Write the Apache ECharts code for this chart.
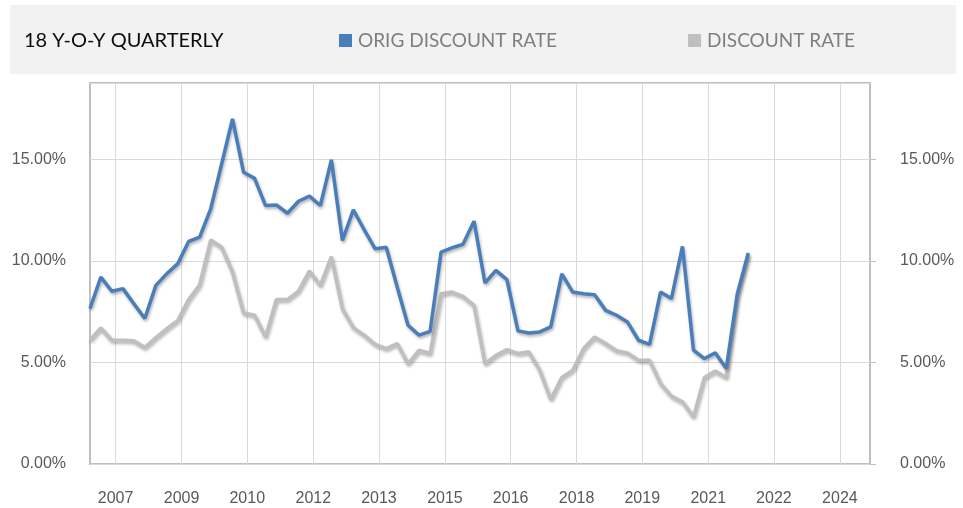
<!DOCTYPE html>
<html>
<head>
<meta charset="utf-8">
<script src="https://cdn.jsdelivr.net/npm/echarts@6/dist/echarts.min.js"></script>
<style>html,body{margin:0;padding:0;background:#fff}#c{width:963px;height:508px}</style>
</head>
<body>
<div id="c"></div>
<script>
// Quarter dates (end of month)
const dates = [
 '2006-11-30',
 '2007-02-28','2007-05-31','2007-08-31','2007-11-30',
 '2008-02-29','2008-05-31','2008-08-31','2008-11-30',
 '2009-02-28','2009-05-31','2009-08-31','2009-11-30',
 '2010-02-28','2010-05-31','2010-08-31','2010-11-30',
 '2011-02-28','2011-05-31','2011-08-31','2011-11-30',
 '2012-02-29','2012-05-31','2012-08-31','2012-11-30',
 '2013-02-28','2013-05-31','2013-08-31','2013-11-30',
 '2014-02-28','2014-05-31','2014-08-31','2014-11-30',
 '2015-02-28','2015-05-31','2015-08-31','2015-11-30',
 '2016-02-29','2016-05-31','2016-08-31','2016-11-30',
 '2017-02-28','2017-05-31','2017-08-31','2017-11-30',
 '2018-02-28','2018-05-31','2018-08-31','2018-11-30',
 '2019-02-28','2019-05-31','2019-08-31','2019-11-30',
 '2020-02-29','2020-05-31','2020-08-31','2020-11-30',
 '2021-02-28','2021-05-31','2021-08-31','2021-11-30'
];
// ORIG DISCOUNT RATE (%)
const origRate = [
 7.65,
 9.20, 8.50, 8.63, 7.89,
 7.16, 8.79, 9.37, 9.86,
 10.95, 11.16, 12.56, 14.77,
 16.98, 14.36, 14.06, 12.72,
 12.75, 12.34, 12.93, 13.18,
 12.72, 14.97, 11.00, 12.51,
 11.54, 10.59, 10.67, 8.71,
 6.83, 6.34, 6.53, 10.43,
 10.64, 10.81, 11.95, 8.91,
 9.53, 9.07, 6.55, 6.45,
 6.50, 6.75, 9.36, 8.46,
 8.38, 8.33, 7.56, 7.32,
 6.99, 6.09, 5.89, 8.46,
 8.14, 10.71, 5.60, 5.19,
 5.47, 4.70, 8.38, 10.38
];
// DISCOUNT RATE (%)
const discRate = [
 6.09,
 6.70, 6.09, 6.09, 6.06,
 5.73, 6.22, 6.66, 7.07,
 8.09, 8.82, 11.03, 10.67,
 9.45, 7.43, 7.32, 6.25,
 8.10, 8.09, 8.51, 9.50,
 8.79, 10.20, 7.65, 6.71,
 6.34, 5.89, 5.68, 5.93,
 4.94, 5.60, 5.44, 8.38,
 8.46, 8.25, 7.81, 4.94,
 5.35, 5.63, 5.44, 5.52,
 4.62, 3.18, 4.26, 4.62,
 5.68, 6.25, 5.93, 5.57,
 5.47, 5.11, 5.11, 3.96,
 3.34, 3.06, 2.32, 4.26,
 4.58, 4.26, 8.20, 10.30
];
// x-axis gridline dates and their labels
const xTickDates = ['2007-07-01','2009-01-01','2010-07-01','2012-01-01','2013-07-01','2015-01-01','2016-07-01','2018-01-01','2019-07-01','2021-01-01','2022-07-01','2024-01-01'];
const xTickLabels = ['2007','2009','2010','2012','2013','2015','2016','2018','2019','2021','2022','2024'];
const yTicks = [0, 5, 10, 15];

function decYear(s) {
  const d = new Date(s + 'T00:00:00Z');
  const y = d.getUTCFullYear();
  const start = Date.UTC(y, 0, 1), end = Date.UTC(y + 1, 0, 1);
  return y + (d.getTime() - start) / (end - start);
}
const xs = dates.map(decYear);
const tickXs = xTickDates.map(decYear);
const labelOf = v => {
  for (let i = 0; i < tickXs.length; i++) if (Math.abs(tickXs[i] - v) < 1e-6) return xTickLabels[i];
  return '';
};
const yFmt = v => (yTicks.indexOf(Math.round(v * 1000) / 1000) >= 0 ? v.toFixed(2) + '%' : '');

const FONT = '"Liberation Sans", Arial, sans-serif';
const chart = echarts.init(document.getElementById('c'), null, {renderer: 'canvas'});
const yAxisBase = {
  type: 'value', min: 0, max: 18.75, interval: 5,
  axisLine: {show: false},
  axisLabel: {color: '#595959', fontFamily: FONT, fontSize: 16, formatter: yFmt, showMaxLabel: false},
  splitLine: {show: true, lineStyle: {color: '#d9d9d9', width: 1}}
};
chart.setOption({
  animation: false,
  backgroundColor: '#ffffff',
  graphic: [{type: 'rect', z: -10, shape: {x: 10, y: 5, width: 946, height: 69}, style: {fill: '#f2f2f2'}}],
  title: {
    text: '18 Y-O-Y QUARTERLY', left: 24, top: 31, padding: 0,
    textStyle: {fontFamily: 'Lato', fontSize: 20, fontWeight: 'normal', color: '#0d0d0d'}
  },
  legend: {
    left: 339, top: 31, padding: 0, itemGap: 131, itemWidth: 13, itemHeight: 13, icon: 'rect',
    data: [{name: 'ORIG DISCOUNT RATE'}, {name: 'DISCOUNT RATE'}],
    textStyle: {fontFamily: 'Lato', fontSize: 19, color: '#7f7f7f', padding: [0, 0, 0, 1]}
  },
  grid: {left: 90, right: 93, top: 83, bottom: 44, show: true, borderColor: '#bfbfbf', borderWidth: 2, backgroundColor: 'transparent'},
  xAxis: {
    type: 'value', min: xs[0], max: decYear('2024-09-08'),
    axisLine: {show: false},
    axisTick: {show: false, customValues: tickXs},
    axisLabel: {customValues: tickXs, formatter: labelOf, color: '#595959', fontFamily: FONT, fontSize: 16, margin: 27},
    splitLine: {show: true, lineStyle: {color: '#d9d9d9', width: 1}}
  },
  yAxis: [
    Object.assign({}, yAxisBase, {position: 'left', axisTick: {show: false}, axisLabel: Object.assign({}, yAxisBase.axisLabel, {margin: 24})}),
    Object.assign({}, yAxisBase, {position: 'right', axisTick: {show: true, inside: false, length: 6, lineStyle: {color: '#bfbfbf', width: 1}}, axisLabel: Object.assign({}, yAxisBase.axisLabel, {margin: 30}), splitLine: {show: false}})
  ],
  series: [
    {
      name: 'DISCOUNT RATE', type: 'line', showSymbol: false, symbol: 'none',
      data: xs.map((x, i) => [x, discRate[i]]),
      itemStyle: {color: '#bfbfbf'},
      lineStyle: {color: '#bfbfbf', width: 3.5, shadowColor: 'rgba(0,0,0,0.3)', shadowBlur: 3, shadowOffsetX: 1, shadowOffsetY: 2}
    },
    {
      name: 'ORIG DISCOUNT RATE', type: 'line', showSymbol: false, symbol: 'none',
      data: xs.map((x, i) => [x, origRate[i]]),
      itemStyle: {color: '#4a7ebb'},
      lineStyle: {color: '#4a7ebb', width: 3.5, shadowColor: 'rgba(0,0,0,0.3)', shadowBlur: 3, shadowOffsetX: 1, shadowOffsetY: 2}
    }
  ]
});
</script>
</body>
</html>
